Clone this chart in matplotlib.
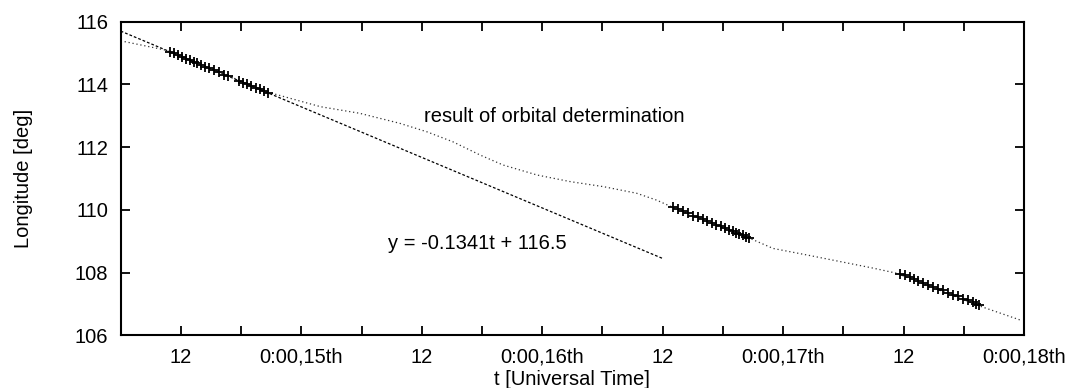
import matplotlib
matplotlib.use("Agg")
from matplotlib import pyplot as plt
import numpy as np

plt.rcParams['font.family'] = ['Liberation Sans', 'DejaVu Sans']

# time in hours counted from 0:00 on the 14th
# linear fit y = -0.1341t + 116.5 (end points)
fit_t = [6.0, 60.0]
fit_lon = [115.70, 108.45]

# result of orbital determination (dotted curve)
orb_t = [6.0, 10.4, 20.7, 25.9, 29.8, 33.8, 36.5, 39.1, 41.8, 44.1, 47.5, 50.8,
         54.1, 57.4, 59.4, 61.0, 68.7, 71.0, 74.4, 77.7, 81.0, 83.3, 91.8, 95.6]
orb_lon = [115.39, 115.10, 113.75, 113.29, 113.08, 112.76, 112.49, 112.17, 111.75,
           111.43, 111.11, 110.90, 110.74, 110.53, 110.31, 110.08, 109.09, 108.77,
           108.56, 108.35, 108.14, 107.98, 106.91, 106.49]

# observations
obs1_t = [10.9, 11.3, 11.7, 12.1, 12.5, 12.9, 13.3, 13.6, 14.0, 14.4, 14.8, 15.3,
          15.8, 16.3, 16.7, 17.8, 18.2, 18.6, 19.0, 19.5, 19.9, 20.3, 20.7]
obs1_lon = [115.03, 114.99, 114.93, 114.88, 114.82, 114.77, 114.72, 114.68, 114.63,
            114.57, 114.51, 114.45, 114.38, 114.31, 114.26, 114.11, 114.06, 114.01,
            113.95, 113.89, 113.84, 113.79, 113.74]
obs2_t = [61.06, 61.56, 62.06, 62.55, 63.05, 63.55, 63.99, 64.45, 64.89, 65.31,
          65.78, 66.21, 66.64, 66.98, 67.31, 67.64, 67.98, 68.30, 68.63]
obs2_lon = [110.08, 110.02, 109.95, 109.89, 109.82, 109.76, 109.70, 109.64, 109.59,
            109.53, 109.47, 109.42, 109.36, 109.32, 109.27, 109.23, 109.19, 109.15,
            109.10]
obs3_t = [83.64, 84.14, 84.64, 85.04, 85.47, 85.97, 86.46, 86.96, 87.46, 87.96,
          88.46, 88.95, 89.45, 89.95, 90.45, 90.89, 91.22, 91.54]
obs3_lon = [107.97, 107.91, 107.85, 107.80, 107.74, 107.68, 107.62, 107.55, 107.49,
            107.43, 107.36, 107.30, 107.24, 107.17, 107.11, 107.05, 107.01, 106.97]

xtick_pos = [12, 24, 36, 48, 60, 72, 84, 96]
xtick_labels = ['12', '0:00,15th', '12', '0:00,16th', '12', '0:00,17th', '12', '0:00,18th']
ytick_pos = [106, 108, 110, 112, 114, 116]

fig = plt.figure(figsize=(10.7, 3.88), dpi=100)
ax = fig.add_axes([0.1128, 0.1358, 0.8442, 0.8083])

ax.plot(fit_t, fit_lon, color='black', lw=0.9, linestyle=(0, (2.2, 1.6)))
ax.plot(orb_t, orb_lon, color='#333333', lw=0.9, linestyle=(0, (1, 2.2)))
for tt, ll in [(obs1_t, obs1_lon), (obs2_t, obs2_lon), (obs3_t, obs3_lon)]:
    ax.plot(tt, ll, linestyle='none', marker='+', color='black', markersize=7.5, mew=1.3)

ax.text(36.2, 112.97, 'result of orbital determination', fontsize=14.5, va='center', ha='left')
ax.text(32.6, 108.94, 'y = -0.1341t + 116.5', fontsize=14.5, va='center', ha='left')

ax.set_xlim(6, 96)
ax.set_ylim(106, 116)
ax.set_xticks(xtick_pos)
ax.set_xticklabels(xtick_labels)
ax.set_xticks([6, 18, 30, 42, 54, 66, 78, 90], minor=True)
ax.set_yticks(ytick_pos)

ax.tick_params(axis='both', which='both', direction='in', top=True, right=True,
               length=6.5, width=1.3, labelsize=14.5, pad=9)
for s in ax.spines.values():
    s.set_linewidth(1.5)

ax.set_xlabel('t [Universal Time]', fontsize=14.5, labelpad=2)
ax.set_ylabel('Longitude [deg]', fontsize=14.5, labelpad=30)

fig.savefig('out.png', dpi=100)
